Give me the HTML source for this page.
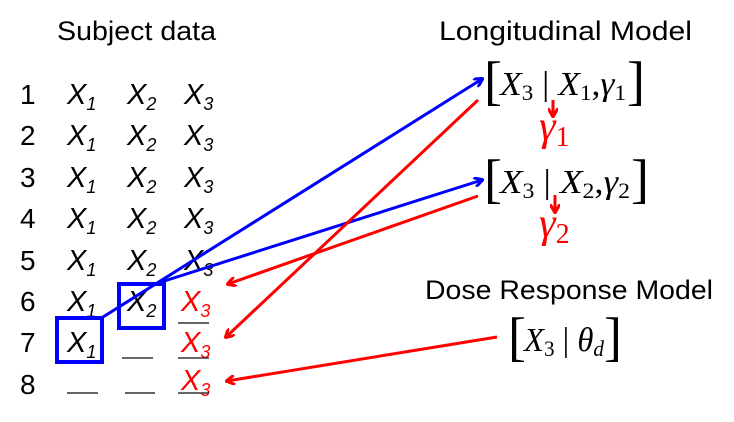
<!DOCTYPE html>
<html><head><meta charset="utf-8"><style>
html,body{margin:0;padding:0;background:#fff;}
svg{display:block;}
.t{font-family:"Liberation Sans",sans-serif;font-size:27px;fill:#000;}
.n{font-family:"Liberation Sans",sans-serif;font-size:28px;fill:#000;}
.x{font-family:"Liberation Sans",sans-serif;font-style:italic;font-size:29px;}
.s{font-size:18px;}
.m{font-family:"Liberation Serif",serif;font-style:italic;font-size:34px;}
.ms{font-family:"Liberation Serif",serif;font-style:normal;font-size:22px;}
.br{font-family:"Liberation Serif",serif;font-size:54px;font-weight:normal;}
</style></head><body>
<svg width="734" height="422" viewBox="0 0 734 422" xmlns="http://www.w3.org/2000/svg">
<defs>
<marker id="ar" markerWidth="10" markerHeight="10" refX="8" refY="5" orient="auto" markerUnits="userSpaceOnUse"><path d="M0,0 L9,5 L0,10" fill="none" stroke="#f00" stroke-width="3"/></marker>
<marker id="ab" markerWidth="10" markerHeight="10" refX="8" refY="5" orient="auto" markerUnits="userSpaceOnUse"><path d="M0,0 L9,5 L0,10" fill="none" stroke="#00f" stroke-width="3"/></marker>
</defs>
<text class="t" x="57" y="40" textLength="159" lengthAdjust="spacingAndGlyphs">Subject data</text>
<text class="t" x="439" y="40" textLength="253" lengthAdjust="spacingAndGlyphs">Longitudinal Model</text>
<text class="t" x="425" y="299" textLength="288" lengthAdjust="spacingAndGlyphs">Dose Response Model</text>

<g class="n">
<text x="20" y="104">1</text><text x="20" y="145">2</text><text x="20" y="187">3</text><text x="20" y="228">4</text>
<text x="20" y="270">5</text><text x="20" y="311">6</text><text x="20" y="352">7</text><text x="20" y="394">8</text>
</g>
<g class="x" fill="#000">
<text x="67" y="104">X<tspan class="s" dy="6">1</tspan></text><text x="127" y="104">X<tspan class="s" dy="6">2</tspan></text><text x="184" y="104">X<tspan class="s" dy="6">3</tspan></text>
<text x="67" y="145">X<tspan class="s" dy="6">1</tspan></text><text x="127" y="145">X<tspan class="s" dy="6">2</tspan></text><text x="184" y="145">X<tspan class="s" dy="6">3</tspan></text>
<text x="67" y="187">X<tspan class="s" dy="6">1</tspan></text><text x="127" y="187">X<tspan class="s" dy="6">2</tspan></text><text x="184" y="187">X<tspan class="s" dy="6">3</tspan></text>
<text x="67" y="228">X<tspan class="s" dy="6">1</tspan></text><text x="127" y="228">X<tspan class="s" dy="6">2</tspan></text><text x="184" y="228">X<tspan class="s" dy="6">3</tspan></text>
<text x="67" y="270">X<tspan class="s" dy="6">1</tspan></text><text x="127" y="270">X<tspan class="s" dy="6">2</tspan></text><text x="184" y="270">X<tspan class="s" dy="6">3</tspan></text>
<text x="67" y="311">X<tspan class="s" dy="6">1</tspan></text><text x="127" y="311">X<tspan class="s" dy="6">2</tspan></text>
<text x="67" y="352">X<tspan class="s" dy="6">1</tspan></text>
</g>
<g class="x" fill="#f00">
<text x="181" y="311">X<tspan class="s" dy="6">3</tspan></text>
<text x="181" y="352">X<tspan class="s" dy="6">3</tspan></text>
<text x="181" y="390">X<tspan class="s" dy="6">3</tspan></text>
</g>
<g stroke="#333" stroke-width="1.5">
<line x1="178" y1="323" x2="209" y2="323"/><line x1="178" y1="358" x2="209" y2="358"/>
<line x1="122" y1="358" x2="153" y2="358"/>
<line x1="67" y1="393" x2="98" y2="393"/><line x1="125" y1="393" x2="155" y2="393"/><line x1="178" y1="393" x2="209" y2="393"/>
</g>
<g fill="none" stroke="#00f" stroke-width="4">
<rect x="57" y="318" width="45" height="44"/>
<rect x="119" y="284" width="45" height="44"/>
</g>
<g stroke="#00f" stroke-width="3" fill="none">
<line x1="103" y1="317" x2="482" y2="79" marker-end="url(#ab)"/>
<line x1="158" y1="283" x2="482" y2="180" marker-end="url(#ab)"/>
</g>
<g stroke="#f00" stroke-width="3" fill="none">
<line x1="478" y1="100" x2="226" y2="337" marker-end="url(#ar)"/>
<line x1="478" y1="196" x2="228" y2="284" marker-end="url(#ar)"/>
<line x1="497" y1="337" x2="227" y2="381" marker-end="url(#ar)"/>
<line x1="553" y1="100" x2="553" y2="116" marker-end="url(#ar)"/>
<line x1="555" y1="195" x2="555" y2="212" marker-end="url(#ar)"/>
</g>
<g fill="#000">
<text class="br" x="484" y="99">[</text>
<text class="m" x="500" y="95" textLength="126" lengthAdjust="spacingAndGlyphs">X<tspan class="ms" dy="5">3</tspan><tspan dy="-5" style="font-style:normal"> | </tspan>X<tspan class="ms" dy="5">1</tspan><tspan dy="-5" style="font-style:normal">,</tspan>γ<tspan class="ms" dy="5">1</tspan></text>
<text class="br" x="627" y="99">]</text>
<text class="br" x="484" y="197">[</text>
<text class="m" x="500" y="193" textLength="130" lengthAdjust="spacingAndGlyphs">X<tspan class="ms" dy="5">3</tspan><tspan dy="-5" style="font-style:normal"> | </tspan>X<tspan class="ms" dy="5">2</tspan><tspan dy="-5" style="font-style:normal">,</tspan>γ<tspan class="ms" dy="5">2</tspan></text>
<text class="br" x="631" y="197">]</text>
<text class="br" x="508" y="355">[</text>
<text class="m" x="524" y="351" textLength="80" lengthAdjust="spacingAndGlyphs">X<tspan class="ms" dy="5">3</tspan><tspan dy="-5" style="font-style:normal"> | </tspan>θ<tspan class="ms" dy="5" style="font-style:italic">d</tspan></text>
<text class="br" x="604" y="355">]</text>
</g>
<g fill="#f00">
<text class="m" x="539" y="140" style="font-size:42px">γ<tspan class="ms" style="font-size:28px" dy="6">1</tspan></text>
<text class="m" x="539" y="237" style="font-size:42px">γ<tspan class="ms" style="font-size:28px" dy="6">2</tspan></text>
</g>
</svg>
</body></html>
